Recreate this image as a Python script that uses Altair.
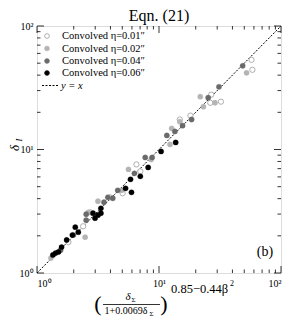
import altair as alt
import pandas as pd

# ---- data ----
open_x = [57.3, 58.3, 26.8, 26.3, 32.2, 18.1, 14.8, 6.53, 7.03, 5.03, 2.73, 3.95, 1.81, 2.39]
open_y = [53.2, 44.2, 27.8, 23.9, 24.4, 18.8, 17.5, 7.57, 6.65, 4.42, 3.10, 4.10, 1.78, 2.39]
gray_x = [52.2, 21.8, 28.8, 23.1, 14.8, 12.7, 12.3, 8.62, 5.62, 4.94, 3.16, 2.63, 2.48, 1.30]
gray_y = [41.8, 26.8, 23.9, 22.2, 16.8, 14.8, 11.0, 8.30, 6.90, 4.67, 3.81, 3.10, 1.95, 1.32]
dark_x = [48.5, 25.3, 31.0, 18.5, 15.6, 13.5, 11.6, 7.71, 8.78, 6.29, 4.59, 4.18, 3.81, 3.54, 2.53, 2.53, 1.56, 1.99]
dark_y = [47.6, 26.3, 32.2, 17.5, 15.6, 14.0, 13.0, 8.62, 8.62, 6.41, 4.67, 4.03, 4.10, 3.74, 2.99, 2.68, 1.53, 2.03]
black_x = [10.4, 13.7, 8.15, 7.03, 5.84, 5.32, 5.95, 3.34, 3.34, 3.16, 2.99, 2.88, 2.06, 2.18, 1.95, 1.75, 1.59, 1.42, 1.35, 1.50]
black_y = [9.64, 11.4, 7.16, 6.06, 5.73, 4.85, 4.50, 3.34, 3.05, 2.94, 2.78, 3.05, 2.35, 2.14, 2.03, 1.85, 1.62, 1.45, 1.40, 1.48]

series_labels = ["Convolved η=0.01″", "Convolved η=0.02″", "Convolved η=0.04″", "Convolved η=0.06″"]
major_ticks = [1, 10, 100]
minor_ticks = [2, 3, 4, 5, 6, 7, 8, 9, 20, 30, 40, 50, 60, 70, 80, 90]
line_vals = [1, 100]

W, H = 244, 247
FONT = "Liberation Serif"

xs = alt.Scale(type="log", domain=[1, 100], nice=False)
ys = alt.Scale(type="log", domain=[1, 100], nice=False)

label_expr = "datum.value == 1 ? '10⁰' : datum.value == 10 ? '10¹' : datum.value == 100 ? '10²' : ''"
xaxis = alt.Axis(values=major_ticks, labelExpr=label_expr, ticks=False, tickSize=0, domain=False,
                 grid=False, title=None, labelFont=FONT, labelFontSize=10, labelPadding=5,
                 labelColor="black")
yaxis = alt.Axis(values=major_ticks, labelExpr=label_expr, ticks=False, tickSize=0, domain=False,
                 grid=False, title=None, labelFont=FONT, labelFontSize=10, labelPadding=4,
                 labelColor="black")


def pts(xv, yv, fill, stroke, filled=True):
    df = pd.DataFrame({"x": xv, "y": yv})
    return alt.Chart(df).mark_point(
        filled=False, shape="circle", size=28, fill=fill, stroke=stroke,
        strokeWidth=0.8 if not filled else 0.3, opacity=1, fillOpacity=1
    ).encode(x=alt.X("x:Q", scale=xs, axis=xaxis), y=alt.Y("y:Q", scale=ys, axis=yaxis))


line_df = pd.DataFrame({"x": line_vals, "y": line_vals})
diag = alt.Chart(line_df).mark_line(color="black", strokeWidth=1, strokeDash=[2, 1.5]).encode(
    x=alt.X("x:Q", scale=xs, axis=xaxis), y=alt.Y("y:Q", scale=ys, axis=yaxis))

p_open = pts(open_x, open_y, "white", "#9a9a9a", filled=False)
p_gray = pts(gray_x, gray_y, "#b4b4b4", "#b4b4b4")
p_dark = pts(dark_x, dark_y, "#6a6a6a", "#6a6a6a")
p_black = pts(black_x, black_y, "black", "black")

maj = pd.DataFrame({"v": major_ticks})
mnr = pd.DataFrame({"v": minor_ticks})


def ticks(df, length):
    layers = []
    layers.append(alt.Chart(df).mark_rule(color="black", strokeWidth=0.8).encode(
        x=alt.X("v:Q", scale=xs), y=alt.value(H), y2=alt.value(H - length)))
    layers.append(alt.Chart(df).mark_rule(color="black", strokeWidth=0.8).encode(
        x=alt.X("v:Q", scale=xs), y=alt.value(0), y2=alt.value(length)))
    layers.append(alt.Chart(df).mark_rule(color="black", strokeWidth=0.8).encode(
        y=alt.Y("v:Q", scale=ys), x=alt.value(0), x2=alt.value(length)))
    layers.append(alt.Chart(df).mark_rule(color="black", strokeWidth=0.8).encode(
        y=alt.Y("v:Q", scale=ys), x=alt.value(W), x2=alt.value(W - length)))
    return layers


tick_layers = ticks(maj, 7) + ticks(mnr, 3.5)


def txt(s, x, y, size, align="center", angle=0, style="normal", baseline="middle"):
    kw = dict(text=s, font=FONT, fontSize=size, align=align, baseline=baseline,
              color="black", fontStyle=style)
    if angle:
        kw["angle"] = angle
    return alt.Chart(pd.DataFrame({"a": [0]})).mark_text(**kw).encode(
        x=alt.value(x), y=alt.value(y))


# legend (manual, inside top-left)
leg_y = [10, 22.5, 35, 47, 59.5]
leg_sym = []
leg_styles = [("white", "#9a9a9a"), ("#b4b4b4", "#b4b4b4"), ("#6a6a6a", "#6a6a6a"), ("black", "black")]
for i, (f, s) in enumerate(leg_styles):
    leg_sym.append(alt.Chart(pd.DataFrame({"a": [0]})).mark_point(
        shape="circle", size=22, filled=False, fill=f, stroke=s, strokeWidth=0.8, fillOpacity=1, opacity=1
    ).encode(x=alt.value(10), y=alt.value(leg_y[i])))
    leg_sym.append(txt(series_labels[i], 25, leg_y[i], 10.5, align="left"))
leg_sym.append(alt.Chart(pd.DataFrame({"a": [0]})).mark_rule(
    color="black", strokeWidth=1, strokeDash=[2, 1.5]).encode(
    x=alt.value(5), x2=alt.value(21), y=alt.value(leg_y[4])))
leg_sym.append(txt("y = x", 24, leg_y[4], 10.5, align="left", style="italic"))

annot = [
    txt("Eqn. (21)", W / 2, -10, 16),
    txt("(b)", 228, 226, 14),
    # y-axis title delta_I
    txt("δ", -22, 122, 13, angle=270, style="italic"),
    txt("I", -18, 114, 8.5, angle=270, style="italic"),
    # x-axis title formula
    txt("(", 61, 278, 22),
    txt(")", 127, 278, 22),
    txt("δ", 91, 271, 11, style="italic"),
    txt("Σ", 96.5, 274, 7),
    txt("1+0.0069δ", 89, 285, 10),
    txt("Σ", 114.5, 287.5, 7),
    txt("0.85−0.44β", 134, 263, 12.5, align="left"),
    txt("2", 193, 258, 8, align="left"),
]
frac_line = alt.Chart(pd.DataFrame({"a": [0]})).mark_rule(color="black", strokeWidth=0.8).encode(
    x=alt.value(66), x2=alt.value(123), y=alt.value(278.5))

chart = alt.layer(
    diag, p_open, p_gray, p_dark, p_black, *tick_layers, *leg_sym, *annot, frac_line
).properties(
    width=W, height=H,
    autosize=alt.AutoSizeParams(type="none"),
    padding={"left": 29, "top": 18, "right": 4, "bottom": 43},
).configure_view(stroke="black", strokeWidth=1).configure(background="white")

chart.save("out.html", embed_options={"renderer": "svg", "actions": False})
